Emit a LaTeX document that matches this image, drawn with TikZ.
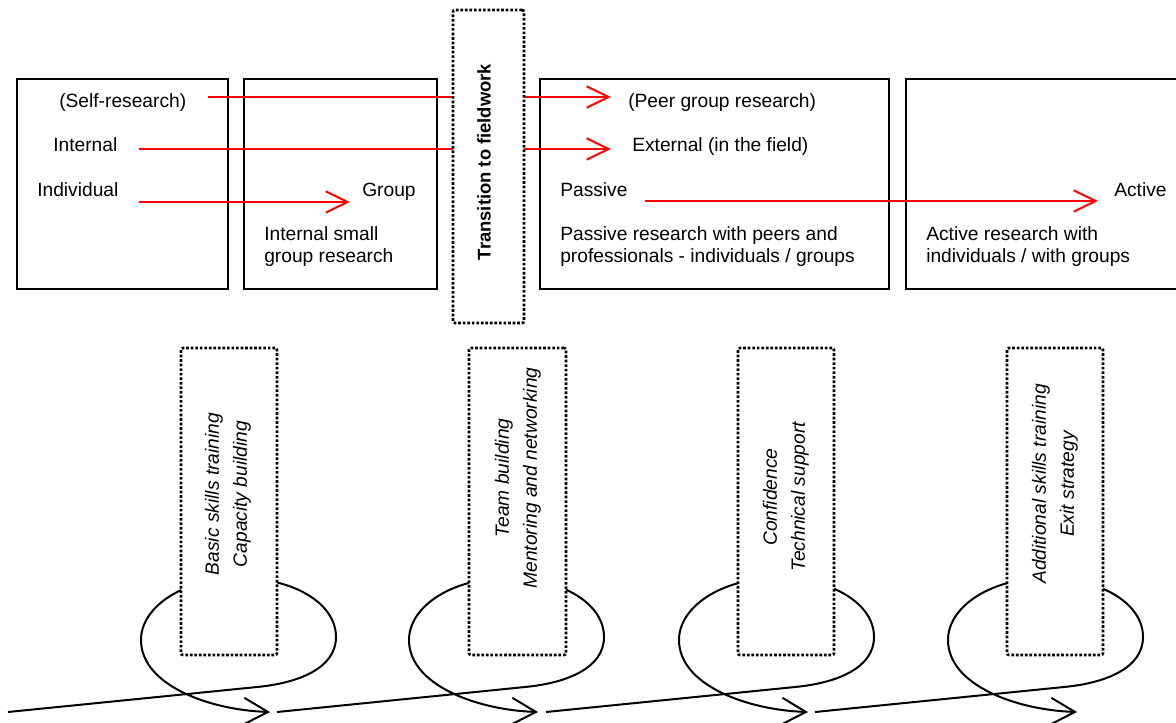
\documentclass[tikz,border=0pt]{standalone}
\usepackage{fontspec}
\setmainfont{Liberation Sans}
\usetikzlibrary{arrows.meta,fit}

\begin{document}
\begin{tikzpicture}[x=0.75pt,y=-0.75pt,
  stagebox/.style={draw=black, line width=1.5pt, inner sep=0pt},
  gatebox/.style={draw=black, fill=white, line width=2pt,
    dash pattern=on 2pt off 1.4pt, rounded corners=1.5pt, inner sep=0pt},
  redflow/.style={draw=red, line width=1.5pt,
    -{Straight Barb[length=16.5pt,width=16pt,line width=1.5pt]}},
  loopflow/.style={draw=black, line width=1.5pt,
    -{Straight Barb[length=18pt,width=20pt,line width=1.5pt]}},
  lbl/.style={inner sep=0pt, font=\fontsize{14.4pt}{16.5pt}\selectfont},
  duo/.style={lbl, align=left, anchor=west},
  turnlbl/.style={inner sep=0pt, rotate=90, align=center,
    font=\fontsize{14.4pt}{21pt}\selectfont\itshape}]

\useasboundingbox (0,0) rectangle (1176,723);
\clip (0,0) rectangle (1176,723);

% research stages
\node[stagebox, fit={(17,79) (228,289)}] (self) {};
\node[stagebox, fit={(244,79) (437,289)}] (small) {};
\node[stagebox, fit={(540,79) (889,289)}] (passive) {};
\node[stagebox, fit={(906,79) (1192,289)}] (active) {};

% stage labels
\node[lbl, anchor=base west] (selfres) at (59,108) {(Self-research)};
\node[lbl, anchor=base west] (internal) at (53,152) {Internal};
\node[lbl, anchor=base west] (indiv) at (37,197) {Individual};
\node[lbl, anchor=base west] (group) at (362,197) {Group};
\node[duo] (smalltxt) at (264,247) {Internal small\\group research};
\node[lbl, anchor=base west] (peer) at (628,108) {(Peer group research)};
\node[lbl, anchor=base west] (external) at (632,152) {External (in the field)};
\node[lbl, anchor=base west] (pass) at (560,197) {Passive};
\node[lbl, anchor=base west] (act) at (1114,197) {Active};
\node[duo] (passtxt) at (560,247) {Passive research with peers and\\professionals - individuals / groups};
\node[duo] (acttxt) at (926,247) {Active research with\\individuals / with groups};

% shifts between stages
\coordinate (a1s) at (208,97);   \coordinate (a1e) at (611,97);
\coordinate (a2s) at (139,149);  \coordinate (a2e) at (611,149);
\coordinate (a3s) at (139,202);  \coordinate (a3e) at (350,202);
\coordinate (a4s) at (645,201);  \coordinate (a4e) at (1098,201);
\draw[redflow] (a1s) -- (a1e);
\draw[redflow] (a2s) -- (a2e);
\draw[redflow] (a3s) -- (a3e);
\draw[redflow] (a4s) -- (a4e);

% fieldwork gate
\node[gatebox, fit={(453,10) (524,323)}] (trans) {};
\node[inner sep=0pt, rotate=90, font=\fontsize{13.8pt}{16pt}\selectfont\bfseries]
  (transtxt) at (484,162) {Transition to fieldwork};

% support cycles along the time line
\foreach \x/\s [count=\i] in {139/8, 407/277, 677/546, 946/815} {
  \coordinate (s\i) at (\s,712);
  \coordinate (t\i) at (\x+131,712);
  \draw[loopflow] (s\i) -- (\x+118,687)
    .. controls (\x+160,683) and (\x+197,668) .. (\x+197,637)
    .. controls (\x+197,603) and (\x+154,578) .. (\x+100,578)
    .. controls (\x+46,578) and (\x+2,606) .. (\x+2,640)
    .. controls (\x+2,685) and (\x+70,710) .. (t\i);
}

% support boxes
\node[gatebox, fit={(181,348) (277,655)}] (g1) {};
\node[gatebox, fit={(469,348) (566,655)}] (g2) {};
\node[gatebox, fit={(738,348) (834,655)}] (g3) {};
\node[gatebox, fit={(1007,348) (1103,655)}] (g4) {};
\node[turnlbl] (g1txt) at (228,494) {Basic skills training\\Capacity building};
\node[turnlbl] (g2txt) at (518,478) {Team building\\Mentoring and networking};
\node[turnlbl] (g3txt) at (786,497) {Confidence\\Technical support};
\node[turnlbl] (g4txt) at (1055,484) {Additional skills training\\Exit strategy};

\end{tikzpicture}
\end{document}
